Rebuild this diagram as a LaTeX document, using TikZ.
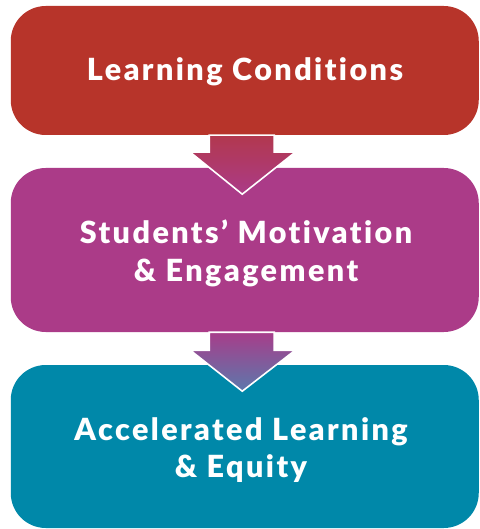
\documentclass[tikz,border=0pt]{standalone}
\usepackage{fontspec}
\setmainfont{Lato}[BoldFont={Lato Black}, BoldFeatures={LetterSpace=8, Ligatures={NoCommon,NoRare,NoDiscretionary}}]
\usetikzlibrary{calc}
\definecolor{boxred}{HTML}{B7342A}
\definecolor{boxmag}{HTML}{AB3B88}
\definecolor{boxteal}{HTML}{0088A9}
\definecolor{arrtopA}{HTML}{B2384E}
\definecolor{arrbotA}{HTML}{AB3B88}
\definecolor{arrtopB}{HTML}{A73D8A}
\definecolor{arrbotB}{HTML}{5C78AC}
\tikzset{
  stagebox/.style={rounded corners=35pt, minimum width=468pt, inner sep=0pt, draw=none},
  stagetext/.style={text=white, align=center, font=\fontsize{30.5}{37.5}\selectfont\bfseries, inner sep=0pt},
  flowarrow/.style={draw=white, line width=1.6pt, line join=miter}
}
\begin{document}
\begin{tikzpicture}[x=1pt,y=-1pt]
\useasboundingbox (0,0) rectangle (479,529);
\node[stagebox, fill=boxred, minimum height=129pt] (b1) at (244.75,70.5) {};
\node[stagebox, fill=boxmag, minimum height=164pt] (b2) at (244.75,250) {};
\node[stagebox, fill=boxteal, minimum height=163pt] (b3) at (244.75,446.5) {};
% arrows
\shadedraw[flowarrow, top color=arrtopA, bottom color=arrbotA]
  ($(b1.south)+(-35.5,0)$) -- ($(b1.south)+(29.5,0)$) -- ($(b1.south)+(29.5,17)$)
  -- ($(b1.south)+(50.5,17)$) -- ($(b1.south)+(-2.5,59)$) -- ($(b1.south)+(-54.5,17)$)
  -- ($(b1.south)+(-35.5,17)$) -- cycle;
\shadedraw[flowarrow, top color=arrtopB, bottom color=arrbotB]
  ($(b2.south)+(-35.5,0)$) -- ($(b2.south)+(29.5,0)$) -- ($(b2.south)+(29.5,18)$)
  -- ($(b2.south)+(50.5,18)$) -- ($(b2.south)+(-2.5,59)$) -- ($(b2.south)+(-54.5,18)$)
  -- ($(b2.south)+(-35.5,18)$) -- cycle;
% texts
\node[stagetext] (t1) at (245,71.5) {Learning Conditions};
\node[stagetext] (t2) at (246,253.5) {Students’ Motivation\\\& Engagement};
\node[stagetext] (t3) at (241,450) {Accelerated Learning\\\& Equity};
\end{tikzpicture}
\end{document}
